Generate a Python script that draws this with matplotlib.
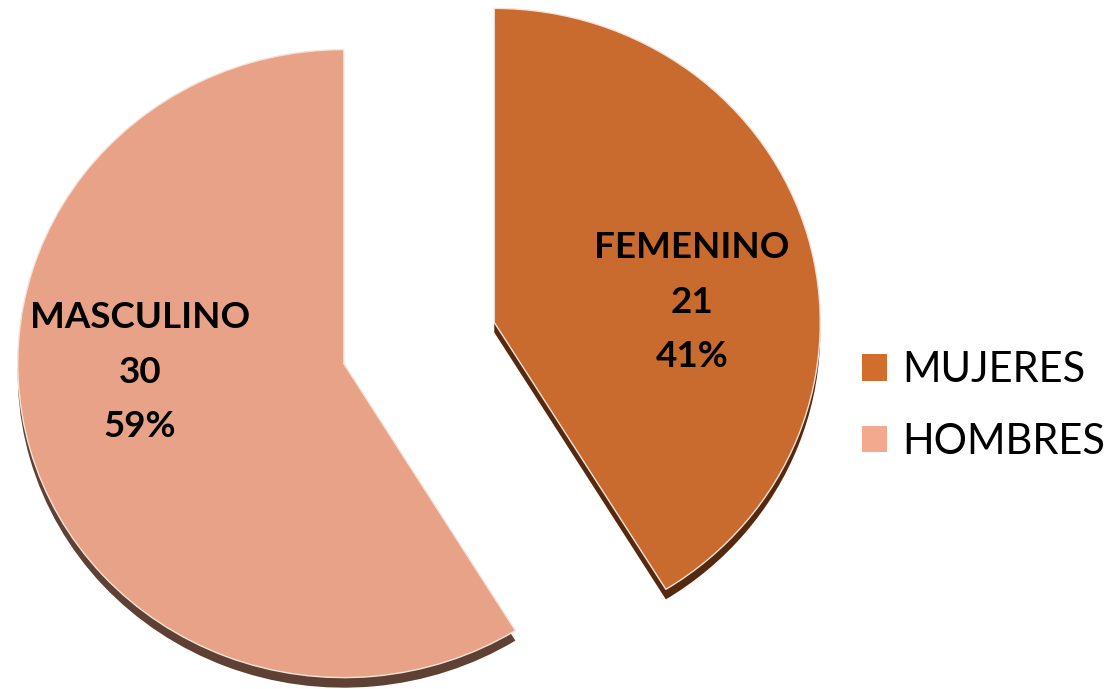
import matplotlib
matplotlib.use('Agg')
import matplotlib.pyplot as plt
from matplotlib.patches import Patch

# data
categories = ["FEMENINO", "MASCULINO"]
values = [21, 30]
legend_labels = ["MUJERES", "HOMBRES"]

W, H = 1108, 689
fig = plt.figure(figsize=(W / 100, H / 100), dpi=100)
fig.patch.set_facecolor("white")
ax = fig.add_axes([0, 0, 1, 1])

# pixel geometry of the (slightly flattened) pie
cx, cy = 419, 343
rx, ry = 326, 314

top_colors = ["#C96A2E", "#E8A287"]
side_colors = ["#55290F", "#5E4035"]
explode = [0.24, 0.24]
depth = 0.032  # 3D thickness (in y data units)

# side / shadow layer
ax.pie(values, explode=explode, colors=side_colors, startangle=90,
       counterclock=False, center=(0, -depth),
       wedgeprops=dict(linewidth=0))
# top surface
wedges, _ = ax.pie(values, explode=explode, colors=top_colors, startangle=90,
                   counterclock=False,
                   wedgeprops=dict(edgecolor="#F3E3D8", linewidth=1.0))

ax.set_aspect("auto")
ax.set_xlim((0 - cx) / rx, (W - cx) / rx)
ax.set_ylim((cy - H) / ry, (cy - 0) / ry)
ax.axis("off")

total = sum(values)
font = ["Lato", "DejaVu Sans"]
label_pos = [(692, 302), (140, 372)]
for (px, py), cat, v in zip(label_pos, categories, values):
    pct = round(100 * v / total)
    ax.text((px - cx) / rx, (cy - py) / ry, f"{cat}\n{v}\n{pct}%",
            ha="center", va="center", fontsize=26.5, fontweight="bold",
            color="black", linespacing=1.8, family=font)

handles = [Patch(facecolor="#D26E2C", edgecolor="none"),
           Patch(facecolor="#F2A98D", edgecolor="none")]
fig.legend(handles, legend_labels, loc="center left",
           bbox_to_anchor=(862 / W, 1 - 406 / H), frameon=False,
           prop=dict(family=font, size=30), handlelength=0.6, handleheight=0.6,
           handletextpad=0.36, labelspacing=0.8, borderpad=0, borderaxespad=0)

plt.savefig("out.png", dpi=100, facecolor="white")
plt.close()
